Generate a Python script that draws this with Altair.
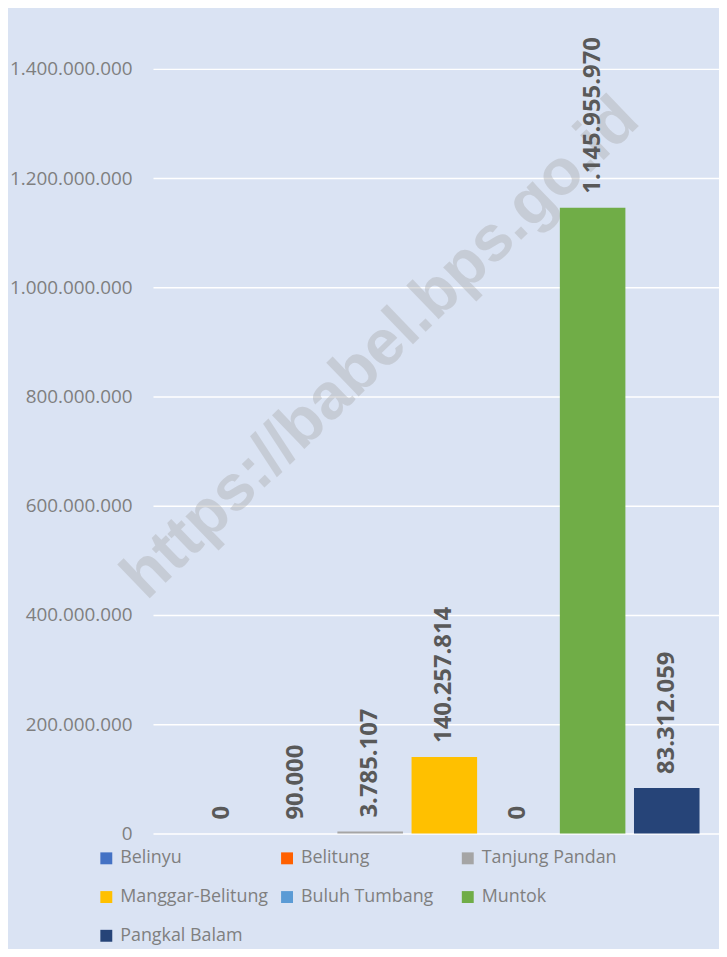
import altair as alt
import pandas as pd

ports = ["Belinyu", "Belitung", "Tanjung Pandan", "Manggar-Belitung",
         "Buluh Tumbang", "Muntok", "Pangkal Balam"]
values = [0, 90000, 3785107, 140257814, 0, 1145955970, 83312059]
colors = ["#4472c4", "#ff6000", "#a5a5a5", "#ffc000", "#5b9bd5", "#70ad47", "#264478"]
y_ticks = [0, 200000000, 400000000, 600000000, 800000000,
           1000000000, 1200000000, 1400000000]
watermark = ["https://babel.bps.go.id"]

df = pd.DataFrame({"port": ports, "value": values})

x = alt.X("port:N", sort=ports, axis=None,
          scale=alt.Scale(paddingInner=0.116, paddingOuter=0.375, align=0.65))
y = alt.Y("value:Q",
          scale=alt.Scale(domain=[0, 1400000000], nice=False),
          axis=alt.Axis(values=y_ticks, format=",.0f", title=None, ticks=False,
                        domain=False, grid=True, gridColor="white", gridWidth=1.5,
                        labelFont="Open Sans", labelFontSize=19,
                        labelColor="#7f7f7f", labelPadding=21))

wm = alt.Chart(pd.DataFrame({"t": watermark})).mark_text(
    angle=316, align="center", baseline="middle",
    font="Liberation Sans", fontSize=65, fontWeight="bold",
    color="#a6a6a6", opacity=0.37
).encode(x=alt.value(229), y=alt.value(281), text="t:N")

bars = alt.Chart(df).mark_bar().encode(
    x=x, y=y,
    color=alt.Color("port:N", sort=ports,
                    scale=alt.Scale(domain=ports, range=colors),
                    legend=alt.Legend(orient="none", legendX=-56, legendY=786,
                                      direction="horizontal", columns=3,
                                      gridAlign="all", columnPadding=9,
                                      rowPadding=21, symbolType="square",
                                      symbolSize=144, symbolStrokeWidth=0,
                                      symbolOpacity=1, labelFont="Open Sans",
                                      labelFontSize=18, labelColor="#7f7f7f",
                                      labelOffset=5, title=None, padding=0,
                                      labelLimit=300))
)

labels = alt.Chart(df).mark_text(
    angle=270, align="left", baseline="middle", dx=14,
    font="Open Sans", fontSize=24, fontWeight="bold", color="#595959"
).encode(x=x, y=y, text=alt.Text("value:Q", format=","))

chart = alt.layer(wm, bars, labels).properties(
    width=570, height=770,
    padding={"left": 146, "top": 58, "right": 0, "bottom": 113},
    autosize=alt.AutoSizeParams(type="none"),
    background="#dae3f3",
).configure(
    locale={"number": {"decimal": ",", "thousands": ".", "grouping": [3],
                       "currency": ["Rp", ""]}}
).configure_view(stroke=None)

chart.save("out.html", embed_options={"renderer": "svg", "actions": False})
